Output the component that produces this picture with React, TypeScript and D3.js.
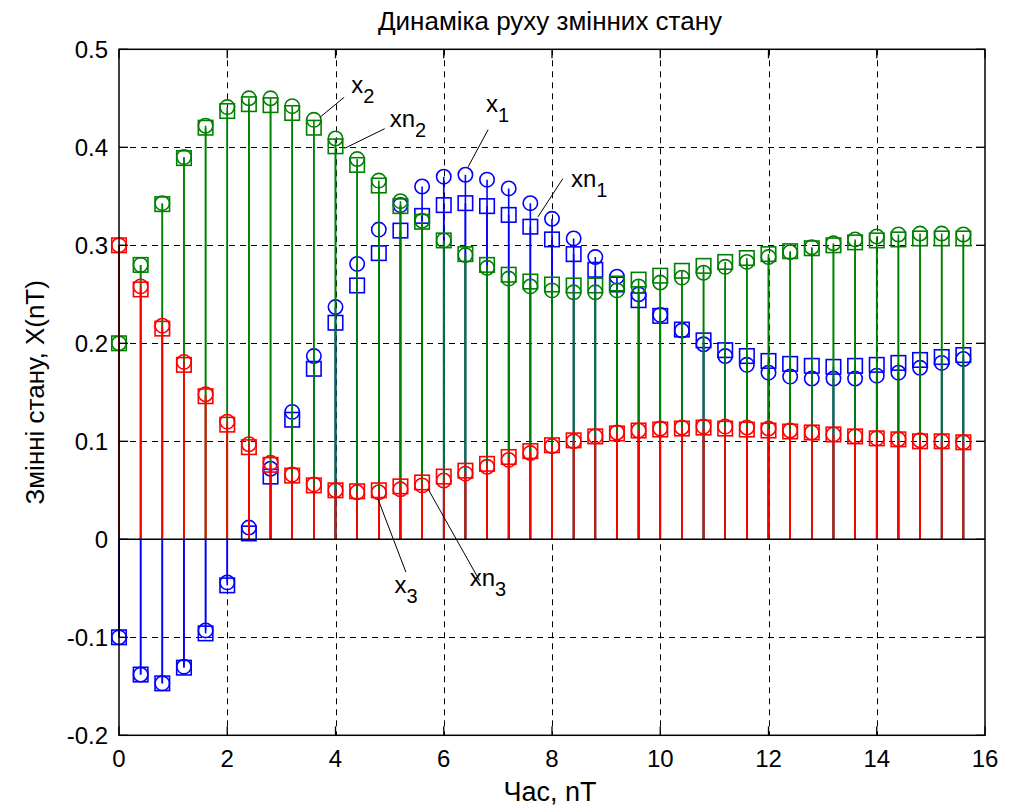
import React from "react";
import * as d3 from "d3";

// Sampling instants, nT
const time = [
  0, 0.4, 0.8, 1.2, 1.6, 2.0, 2.4, 2.8, 3.2, 3.6,
  4.0, 4.4, 4.8, 5.2, 5.6, 6.0, 6.4, 6.8, 7.2, 7.6,
  8.0, 8.4, 8.8, 9.2, 9.6, 10.0, 10.4, 10.8, 11.2, 11.6,
  12.0, 12.4, 12.8, 13.2, 13.6, 14.0, 14.4, 14.8, 15.2, 15.6,
];

// State variables of the plant (x) and of the model (xn)
const x1 = [
  -0.1, -0.138, -0.147, -0.13, -0.093, -0.044, 0.012, 0.072, 0.13, 0.187,
  0.237, 0.281, 0.316, 0.341, 0.36, 0.37, 0.372, 0.367, 0.358, 0.343,
  0.327, 0.307, 0.288, 0.268, 0.25, 0.229, 0.213, 0.199, 0.187, 0.178,
  0.17, 0.166, 0.164, 0.164, 0.164, 0.167, 0.17, 0.175, 0.18, 0.184,
];
const xn1 = [
  -0.1, -0.138, -0.147, -0.131, -0.096, -0.047, 0.006, 0.064, 0.122, 0.174,
  0.221, 0.259, 0.292, 0.315, 0.33, 0.341, 0.343, 0.34, 0.331, 0.319,
  0.306, 0.291, 0.275, 0.26, 0.244, 0.228, 0.214, 0.203, 0.193, 0.187,
  0.182, 0.179, 0.177, 0.176, 0.177, 0.178, 0.18, 0.183, 0.186, 0.188,
];
const x2 = [
  0.2, 0.28, 0.343, 0.39, 0.422, 0.441, 0.45, 0.45, 0.442, 0.428,
  0.409, 0.388, 0.366, 0.345, 0.325, 0.305, 0.29, 0.277, 0.266, 0.258,
  0.254, 0.252, 0.252, 0.254, 0.258, 0.262, 0.267, 0.272, 0.278, 0.283,
  0.288, 0.293, 0.298, 0.302, 0.306, 0.309, 0.311, 0.312, 0.312, 0.311,
];
const xn2 = [
  0.2, 0.28, 0.342, 0.389, 0.42, 0.437, 0.444, 0.443, 0.435, 0.42,
  0.401, 0.382, 0.361, 0.34, 0.324, 0.305, 0.291, 0.28, 0.27, 0.263,
  0.26, 0.259, 0.259, 0.261, 0.265, 0.269, 0.274, 0.279, 0.283, 0.287,
  0.291, 0.294, 0.297, 0.3, 0.303, 0.305, 0.306, 0.307, 0.307, 0.307,
];
const x3 = [
  0.3, 0.258, 0.218, 0.181, 0.148, 0.12, 0.097, 0.078, 0.066, 0.056,
  0.05, 0.048, 0.048, 0.051, 0.055, 0.06, 0.067, 0.074, 0.081, 0.088,
  0.095, 0.1, 0.105, 0.109, 0.111, 0.113, 0.114, 0.115, 0.115, 0.114,
  0.113, 0.111, 0.109, 0.107, 0.105, 0.103, 0.102, 0.101, 0.1, 0.099,
];
const xn3 = [
  0.3, 0.255, 0.215, 0.178, 0.146, 0.117, 0.094, 0.076, 0.065, 0.055,
  0.05, 0.049, 0.05, 0.054, 0.058, 0.064, 0.07, 0.077, 0.084, 0.09,
  0.096, 0.101, 0.105, 0.108, 0.111, 0.112, 0.113, 0.114, 0.113, 0.112,
  0.111, 0.11, 0.109, 0.107, 0.105, 0.103, 0.102, 0.1, 0.1, 0.099,
];

const xTicks = [0, 2, 4, 6, 8, 10, 12, 14, 16];
const yTicks = [-0.2, -0.1, 0, 0.1, 0.2, 0.3, 0.4, 0.5];

const titleText = "Динаміка руху змінних стану";
const xLabel = "Час, nT";
const yLabel = "Змінні стану, X(nT)";

// Series in drawing order (later ones lie on top)
const series = [
  { name: "x1", values: x1, color: "#0000ff", marker: "circle" },
  { name: "xn1", values: xn1, color: "#0000ff", marker: "square" },
  { name: "x2", values: x2, color: "#008000", marker: "circle" },
  { name: "xn2", values: xn2, color: "#008000", marker: "square" },
  { name: "x3", values: x3, color: "#ff0000", marker: "circle" },
  { name: "xn3", values: xn3, color: "#ff0000", marker: "square" },
];

// Callout labels: leader line from (t0,v0) to (t1,v1), text at (tt,vt)
const callouts = [
  { base: "x", sub: "2", t0: 3.72, v0: 0.431, t1: 4.16, v1: 0.451, tt: 4.29, vt: 0.455 },
  { base: "xn", sub: "2", t0: 4.17, v0: 0.399, t1: 4.91, v1: 0.419, tt: 5.0, vt: 0.421 },
  { base: "x", sub: "1", t0: 6.45, v0: 0.38, t1: 6.82, v1: 0.418, tt: 6.78, vt: 0.436 },
  { base: "xn", sub: "1", t0: 7.74, v0: 0.329, t1: 8.2, v1: 0.368, tt: 8.35, vt: 0.36 },
  { base: "x", sub: "3", t0: 4.78, v0: 0.0418, t1: 5.3, v1: -0.0334, tt: 5.09, vt: -0.055 },
  { base: "xn", sub: "3", t0: 5.71, v0: 0.0514, t1: 6.66, v1: -0.042, tt: 6.48, vt: -0.048 },
];

const W = 1015;
const H = 809;
const plot = { left: 119, right: 985, top: 49.3, bottom: 735.3 };
const font = "'Liberation Sans', Arial, Helvetica, sans-serif";

// snap a coordinate to the centre of a device pixel so 1px lines stay crisp
const crisp = (v: number) => Math.round(v) + 0.5;

export default function App() {
  const x = d3.scaleLinear().domain([0, 16]).range([plot.left, plot.right]);
  const y = d3.scaleLinear().domain([-0.2, 0.5]).range([plot.bottom, plot.top]);
  const tickLen = 9;
  const r = 7.2;
  const sq = 14.5;

  return (
    <svg
      width={W}
      height={H}
      style={{ position: "absolute", left: 0, top: 0, background: "#fff" }}
      fontFamily={font}
    >
      <rect x={0} y={0} width={W} height={H} fill="#fff" />

      {/* grid */}
      <g stroke="#000" strokeWidth={1} strokeDasharray="6,5">
        {xTicks.slice(1, -1).map((t) => (
          <line
            key={"gx" + t}
            x1={crisp(x(t))}
            x2={crisp(x(t))}
            y1={plot.top}
            y2={plot.bottom}
          />
        ))}
        {yTicks.slice(1, -1).map((v) => (
          <line
            key={"gy" + v}
            x1={plot.left}
            x2={plot.right}
            y1={crisp(y(v))}
            y2={crisp(y(v))}
          />
        ))}
      </g>

      {/* stems and markers */}
      {series.map((s) => (
        <g key={s.name} stroke={s.color} fill="none" strokeWidth={1.6}>
          {s.values.map((v, i) => (
            <line key={"s" + i} x1={x(time[i])} x2={x(time[i])} y1={y(0)} y2={y(v)} />
          ))}
          {s.values.map((v, i) =>
            s.marker === "circle" ? (
              <circle key={"m" + i} cx={x(time[i])} cy={y(v)} r={r} />
            ) : (
              <rect
                key={"m" + i}
                x={x(time[i]) - sq / 2}
                y={y(v) - sq / 2}
                width={sq}
                height={sq}
              />
            )
          )}
        </g>
      ))}

      {/* stem baseline */}
      <line x1={x(0)} x2={x(16)} y1={y(0)} y2={y(0)} stroke="#000" strokeWidth={1.6} />

      {/* axes box and ticks */}
      <rect
        x={plot.left}
        y={plot.top}
        width={plot.right - plot.left}
        height={plot.bottom - plot.top}
        fill="none"
        stroke="#000"
        strokeWidth={1.5}
      />
      <g stroke="#000" strokeWidth={1.3}>
        {xTicks.map((t) => (
          <g key={"tx" + t}>
            <line x1={x(t)} x2={x(t)} y1={plot.bottom} y2={plot.bottom - tickLen} />
            <line x1={x(t)} x2={x(t)} y1={plot.top} y2={plot.top + tickLen} />
          </g>
        ))}
        {yTicks.map((v) => (
          <g key={"ty" + v}>
            <line x1={plot.left} x2={plot.left + tickLen} y1={y(v)} y2={y(v)} />
            <line x1={plot.right} x2={plot.right - tickLen} y1={y(v)} y2={y(v)} />
          </g>
        ))}
      </g>

      {/* tick labels */}
      <g fontSize={24} fill="#000">
        {xTicks.map((t) => (
          <text key={"lx" + t} x={x(t)} y={plot.bottom + 32} textAnchor="middle">
            {String(t)}
          </text>
        ))}
        {yTicks.map((v) => (
          <text key={"ly" + v} x={plot.left - 11} y={y(v)} dy="0.35em" textAnchor="end">
            {String(Math.round(v * 10) / 10)}
          </text>
        ))}
      </g>

      {/* callouts */}
      <g>
        {callouts.map((c) => (
          <g key={c.base + c.sub}>
            <line
              x1={x(c.t0)}
              y1={y(c.v0)}
              x2={x(c.t1)}
              y2={y(c.v1)}
              stroke="#000"
              strokeWidth={1}
            />
            <text x={x(c.tt)} y={y(c.vt)} fontSize={24} fill="#000">
              <tspan>{c.base}</tspan>
              <tspan fontSize={20} dy={10}>
                {c.sub}
              </tspan>
            </text>
          </g>
        ))}
      </g>

      {/* title and axis labels */}
      <text x={550} y={30} textAnchor="middle" fontSize={26} fill="#000">
        {titleText}
      </text>
      <text x={550} y={801} textAnchor="middle" fontSize={27} fill="#000">
        {xLabel}
      </text>
      <text
        transform={`translate(44, ${(plot.top + plot.bottom) / 2}) rotate(-90)`}
        textAnchor="middle"
        fontSize={26}
        fill="#000"
      >
        {yLabel}
      </text>
    </svg>
  );
}
